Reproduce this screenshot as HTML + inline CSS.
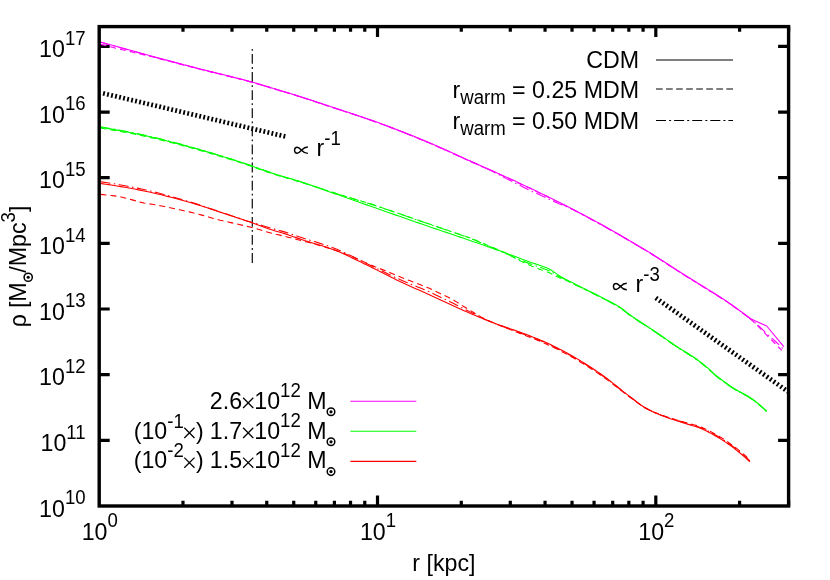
<!DOCTYPE html>
<html><head><meta charset="utf-8"><title>density profiles</title>
<style>html,body{margin:0;padding:0;background:#fff}body{position:relative;width:830px;height:580px;overflow:hidden;font-family:"Liberation Sans",sans-serif}</style></head>
<body>
<svg width="830" height="580" viewBox="0 0 830 580" style="display:block">
<rect width="830" height="580" fill="#fff"/>
<path d="M182.98 506.00 v-5.20 M182.98 26.60 v5.20 M231.99 506.00 v-5.20 M231.99 26.60 v5.20 M266.76 506.00 v-5.20 M266.76 26.60 v5.20 M293.73 506.00 v-5.20 M293.73 26.60 v5.20 M315.76 506.00 v-5.20 M315.76 26.60 v5.20 M334.40 506.00 v-5.20 M334.40 26.60 v5.20 M350.54 506.00 v-5.20 M350.54 26.60 v5.20 M364.77 506.00 v-5.20 M364.77 26.60 v5.20 M377.51 506.00 v-10.50 M377.51 26.60 v10.50 M461.29 506.00 v-5.20 M461.29 26.60 v5.20 M510.29 506.00 v-5.20 M510.29 26.60 v5.20 M545.06 506.00 v-5.20 M545.06 26.60 v5.20 M572.04 506.00 v-5.20 M572.04 26.60 v5.20 M594.07 506.00 v-5.20 M594.07 26.60 v5.20 M612.70 506.00 v-5.20 M612.70 26.60 v5.20 M628.84 506.00 v-5.20 M628.84 26.60 v5.20 M643.08 506.00 v-5.20 M643.08 26.60 v5.20 M655.81 506.00 v-10.50 M655.81 26.60 v10.50 M739.59 506.00 v-5.20 M739.59 26.60 v5.20 M788.60 506.00 v-5.20 M788.60 26.60 v5.20 M99.20 440.34 h10.5 M788.60 440.34 h-10.5 M99.20 374.68 h10.5 M788.60 374.68 h-10.5 M99.20 309.01 h10.5 M788.60 309.01 h-10.5 M99.20 243.35 h10.5 M788.60 243.35 h-10.5 M99.20 177.69 h10.5 M788.60 177.69 h-10.5 M99.20 112.03 h10.5 M788.60 112.03 h-10.5 M99.20 46.37 h10.5 M788.60 46.37 h-10.5" stroke="#000" stroke-width="3.2" fill="none"/>
<path d="M252.30 49.0 V263.1" stroke="#000" stroke-width="1.25" stroke-dasharray="1.8 3.2 9.8 3.3" fill="none" opacity="0.92"/>
<path d="M103.07 93.3 L285.3 136.5" stroke="#000" stroke-width="4.7" stroke-dasharray="1.85 2.27" fill="none"/>
<path d="M655.8 297.9 L788 391.63" stroke="#000" stroke-width="4.7" stroke-dasharray="1.85 2.396" fill="none"/>
<path d="M100.50 42.00 L103.22 42.77 L105.94 43.53 L108.66 44.30 L111.38 45.06 L114.10 45.82 L116.82 46.57 L119.54 47.33 L122.26 48.08 L124.98 48.83 L127.71 49.58 L130.43 50.33 L133.15 51.08 L135.87 51.82 L138.59 52.57 L141.31 53.31 L144.03 54.05 L146.75 54.78 L149.47 55.52 L152.19 56.25 L154.91 56.99 L157.63 57.72 L160.35 58.45 L163.07 59.17 L165.79 59.90 L168.51 60.63 L171.23 61.35 L173.95 62.07 L176.67 62.79 L179.39 63.51 L182.12 64.22 L184.84 64.94 L187.56 65.65 L190.28 66.37 L193.00 67.08 L195.72 67.79 L198.44 68.49 L201.16 69.18 L203.88 69.87 L206.60 70.54 L209.32 71.22 L212.04 71.89 L214.76 72.55 L217.48 73.22 L220.20 73.88 L222.92 74.54 L225.64 75.21 L228.36 75.88 L231.08 76.55 L233.80 77.23 L236.53 77.92 L239.25 78.61 L241.97 79.31 L244.69 80.02 L247.41 80.75 L250.13 81.48 L252.85 82.24 L255.57 83.01 L258.29 83.80 L261.01 84.61 L263.73 85.43 L266.45 86.26 L269.17 87.09 L271.89 87.93 L274.61 88.76 L277.33 89.59 L280.05 90.42 L282.77 91.23 L285.49 92.03 L288.21 92.84 L290.94 93.66 L293.66 94.48 L296.38 95.33 L299.10 96.19 L301.82 97.06 L304.54 97.94 L307.26 98.82 L309.98 99.72 L312.70 100.61 L315.42 101.52 L318.14 102.42 L320.86 103.33 L323.58 104.23 L326.30 105.14 L329.02 106.04 L331.74 106.94 L334.46 107.83 L337.18 108.73 L339.90 109.62 L342.62 110.51 L345.35 111.40 L348.07 112.29 L350.79 113.19 L353.51 114.09 L356.23 115.00 L358.95 115.91 L361.67 116.83 L364.39 117.75 L367.11 118.69 L369.83 119.63 L372.55 120.59 L375.27 121.56 L377.99 122.54 L380.71 123.53 L383.43 124.53 L386.15 125.54 L388.87 126.56 L391.59 127.59 L394.31 128.62 L397.03 129.67 L399.76 130.72 L402.48 131.78 L405.20 132.85 L407.92 133.93 L410.64 135.02 L413.36 136.11 L416.08 137.22 L418.80 138.32 L421.52 139.44 L424.24 140.57 L426.96 141.70 L429.68 142.86 L432.40 144.02 L435.12 145.21 L437.84 146.40 L440.56 147.61 L443.28 148.82 L446.00 150.04 L448.72 151.27 L451.44 152.50 L454.17 153.74 L456.89 154.97 L459.61 156.21 L462.33 157.44 L465.05 158.67 L467.77 159.90 L470.49 161.12 L473.21 162.33 L475.93 163.54 L478.65 164.75 L481.37 165.96 L484.09 167.16 L486.81 168.37 L489.53 169.58 L492.25 170.79 L494.97 172.00 L497.69 173.21 L500.41 174.43 L503.13 175.65 L505.85 176.88 L508.58 178.12 L511.30 179.36 L514.02 180.61 L516.74 181.87 L519.46 183.14 L522.18 184.41 L524.90 185.69 L527.62 186.97 L530.34 188.26 L533.06 189.55 L535.78 190.85 L538.50 192.16 L541.22 193.47 L543.94 194.78 L546.66 196.11 L549.38 197.44 L552.10 198.78 L554.82 200.12 L557.54 201.48 L560.26 202.84 L562.99 204.21 L565.71 205.59 L568.43 206.99 L571.15 208.39 L573.87 209.79 L576.59 211.21 L579.31 212.64 L582.03 214.07 L584.75 215.51 L587.47 216.96 L590.19 218.42 L592.91 219.89 L595.63 221.37 L598.35 222.85 L601.07 224.34 L603.79 225.85 L606.51 227.35 L609.23 228.87 L611.95 230.40 L614.67 231.93 L617.40 233.48 L620.12 235.06 L622.84 236.66 L625.56 238.27 L628.28 239.88 L631.00 241.49 L633.72 243.09 L636.44 244.69 L639.16 246.30 L641.88 247.91 L644.60 249.52 L647.32 251.15 L650.04 252.80 L652.76 254.47 L655.48 256.17 L658.20 257.89 L660.92 259.65 L663.64 261.43 L666.36 263.22 L669.08 265.01 L671.81 266.80 L674.53 268.57 L677.25 270.33 L679.97 272.06 L682.69 273.77 L685.41 275.46 L688.13 277.15 L690.85 278.83 L693.57 280.52 L696.29 282.20 L699.01 283.89 L701.73 285.58 L704.45 287.28 L707.17 288.97 L709.89 290.64 L712.61 292.33 L715.33 294.01 L718.05 295.72 L720.77 297.45 L723.49 299.21 L726.22 301.01 L728.94 302.86 L731.66 304.76 L734.38 306.70 L737.10 308.67 L739.82 310.65 L742.54 312.65 L745.26 314.67 L747.98 316.72 L750.70 318.80 L766.70 326.00 L783.80 346.70" stroke="#ff00ff" stroke-width="1.10" fill="none" stroke-linejoin="round"/>
<path d="M100.50 44.38 L103.22 45.05 L105.94 45.72 L108.66 46.38 L111.38 47.05 L114.10 47.71 L116.82 48.37 L119.54 49.02 L122.26 49.68 L124.98 50.33 L127.71 50.99 L130.43 51.64 L133.15 52.29 L135.87 52.93 L138.59 53.58 L141.31 54.22 L144.03 54.86 L146.75 55.50 L149.47 56.14 L152.19 56.84 L154.91 57.56 L157.63 58.27 L160.35 58.99 L163.07 59.70 L165.79 60.41 L168.51 61.11 L171.23 61.82 L173.95 62.53 L176.67 63.23 L179.39 63.93 L182.12 64.63 L184.84 65.33 L187.56 66.03 L190.28 66.72 L193.00 67.42 L195.72 68.11 L198.44 68.80 L201.16 69.48 L203.88 70.17 L206.60 70.84 L209.32 71.52 L212.04 72.19 L214.76 72.85 L217.48 73.52 L220.20 74.18 L222.92 74.84 L225.64 75.51 L228.36 76.18 L231.08 76.85 L233.80 77.53 L236.53 78.22 L239.25 78.91 L241.97 79.61 L244.69 80.32 L247.41 81.05 L250.13 81.78 L252.85 82.54 L255.57 83.31 L258.29 84.10 L261.01 84.91 L263.73 85.73 L266.45 86.56 L269.17 87.39 L271.89 88.23 L274.61 89.06 L277.33 89.89 L280.05 90.72 L282.77 91.53 L285.49 92.33 L288.21 93.14 L290.94 93.96 L293.66 94.78 L296.38 95.63 L299.10 96.49 L301.82 97.36 L304.54 98.24 L307.26 99.12 L309.98 100.02 L312.70 100.91 L315.42 101.82 L318.14 102.72 L320.86 103.63 L323.58 104.53 L326.30 105.44 L329.02 106.34 L331.74 107.24 L334.46 108.13 L337.18 109.03 L339.90 109.92 L342.62 110.81 L345.35 111.70 L348.07 112.59 L350.79 113.49 L353.51 114.39 L356.23 115.30 L358.95 116.21 L361.67 117.13 L364.39 118.05 L367.11 118.99 L369.83 119.93 L372.55 120.89 L375.27 121.86 L377.99 122.84 L380.71 123.83 L383.43 124.83 L386.15 125.84 L388.87 126.86 L391.59 127.89 L394.31 128.92 L397.03 129.97 L399.76 131.02 L402.48 132.08 L405.20 133.15 L407.92 134.23 L410.64 135.32 L413.36 136.41 L416.08 137.52 L418.80 138.62 L421.52 139.74 L424.24 140.87 L426.96 142.00 L429.68 143.16 L432.40 144.32 L435.12 145.51 L437.84 146.70 L440.56 147.91 L443.28 149.12 L446.00 150.34 L448.72 151.57 L451.44 152.80 L454.17 154.04 L456.89 155.27 L459.61 156.51 L462.33 157.74 L465.05 158.97 L467.77 160.20 L470.49 161.42 L473.21 162.63 L475.93 163.84 L478.65 165.05 L481.37 166.26 L484.09 167.46 L486.81 168.67 L489.53 169.88 L492.25 171.09 L494.97 172.30 L497.69 173.51 L500.41 174.73 L503.13 175.95 L505.85 177.18 L508.58 178.42 L511.30 179.66 L514.02 180.91 L516.74 182.17 L519.46 183.44 L522.18 184.71 L524.90 185.99 L527.62 187.27 L530.34 188.56 L533.06 189.85 L535.78 191.15 L538.50 192.46 L541.22 193.77 L543.94 195.08 L546.66 196.41 L549.38 197.74 L552.10 199.08 L554.82 200.42 L557.54 201.78 L560.26 203.14 L562.99 204.51 L565.71 205.89 L568.43 207.29 L571.15 208.69 L573.87 210.09 L576.59 211.51 L579.31 212.94 L582.03 214.37 L584.75 215.81 L587.47 217.26 L590.19 218.72 L592.91 220.19 L595.63 221.67 L598.35 223.15 L601.07 224.64 L603.79 226.15 L606.51 227.65 L609.23 229.17 L611.95 230.70 L614.67 232.23 L617.40 233.78 L620.12 235.36 L622.84 236.96 L625.56 238.57 L628.28 240.18 L631.00 241.79 L633.72 243.39 L636.44 244.99 L639.16 246.60 L641.88 248.21 L644.60 249.82 L647.32 251.45 L650.04 253.10 L652.76 254.77 L655.48 256.47 L658.20 258.19 L660.92 259.95 L663.64 261.73 L666.36 263.52 L669.08 265.31 L671.81 267.10 L674.53 268.87 L677.25 270.63 L679.97 272.36 L682.69 274.07 L685.41 275.76 L688.13 277.45 L690.85 279.13 L693.57 280.82 L696.29 282.50 L699.01 284.19 L701.73 285.88 L704.45 287.58 L707.17 289.27 L709.89 290.94 L712.61 292.63 L715.33 294.31 L718.05 296.02 L720.77 297.75 L723.49 299.51 L726.22 301.31 L728.94 303.16 L731.66 305.06 L734.38 307.00 L737.10 308.97 L739.82 310.95 L742.54 312.95 L745.26 314.97 L747.98 317.02 L750.70 319.10 L755.90 324.00 L765.00 333.30 L775.00 343.50 L781.70 350.30" stroke="#ff00ff" stroke-width="1.10" fill="none" stroke-dasharray="6 4" stroke-linejoin="round"/>
<path d="M100.50 42.20 L103.22 42.97 L105.94 43.73 L108.66 44.50 L111.38 45.26 L114.10 46.02 L116.82 46.77 L119.54 47.53 L122.26 48.28 L124.98 49.03 L127.71 49.78 L130.43 50.53 L133.15 51.28 L135.87 52.02 L138.59 52.77 L141.31 53.51 L144.03 54.25 L146.75 54.98 L149.47 55.72 L152.19 56.45 L154.91 57.19 L157.63 57.92 L160.35 58.65 L163.07 59.38 L165.79 60.11 L168.51 60.83 L171.23 61.55 L173.95 62.28 L176.67 63.00 L179.39 63.72 L182.12 64.43 L184.84 65.15 L187.56 65.87 L190.28 66.58 L193.00 67.29 L195.72 68.00 L198.44 68.70 L201.16 69.40 L203.88 70.08 L206.60 70.76 L209.32 71.43 L212.04 72.10 L214.76 72.77 L217.48 73.44 L220.20 74.10 L222.92 74.76 L225.64 75.43 L228.36 76.10 L231.08 76.77 L233.80 77.45 L236.53 78.14 L239.25 78.83 L241.97 79.54 L244.69 80.25 L247.41 80.98 L250.13 81.71 L252.85 82.47 L255.57 83.24 L258.29 84.03 L261.01 84.84 L263.73 85.66 L266.45 86.49 L269.17 87.33 L271.89 88.16 L274.61 89.00 L277.33 89.83 L280.05 90.65 L282.77 91.47 L285.49 92.27 L288.21 93.08 L290.94 93.90 L293.66 94.73 L296.38 95.57 L299.10 96.43 L301.82 97.30 L304.54 98.18 L307.26 99.07 L309.98 99.96 L312.70 100.86 L315.42 101.76 L318.14 102.67 L320.86 103.58 L323.58 104.48 L326.30 105.39 L329.02 106.29 L331.74 107.19 L334.46 108.09 L337.18 108.98 L339.90 109.87 L342.62 110.76 L345.35 111.66 L348.07 112.55 L350.79 113.45 L353.51 114.35 L356.23 115.26 L358.95 116.17 L361.67 117.09 L364.39 118.01 L367.11 118.95 L369.83 119.90 L372.55 120.85 L375.27 121.82 L377.99 122.81 L380.71 123.80 L383.43 124.80 L386.15 125.81 L388.87 126.83 L391.59 127.86 L394.31 128.89 L397.03 129.94 L399.76 130.99 L402.48 132.06 L405.20 133.13 L407.92 134.21 L410.64 135.30 L413.36 136.39 L416.08 137.49 L418.80 138.60 L421.52 139.72 L424.24 140.85 L426.96 141.98 L429.68 143.14 L432.40 144.31 L435.12 145.49 L437.84 146.69 L440.56 147.89 L443.28 149.11 L446.00 150.33 L448.72 151.56 L451.44 152.79 L454.17 154.03 L456.89 155.26 L459.61 156.50 L462.33 157.74 L465.05 158.97 L467.77 160.19 L470.49 161.41 L473.21 162.63 L475.93 163.84 L478.65 165.05 L481.37 166.25 L484.09 167.46 L486.81 168.67 L489.53 169.88 L492.25 171.26 L494.97 172.67 L497.69 174.09 L500.41 175.51 L503.13 176.94 L505.85 178.37 L508.58 179.72 L511.30 181.06 L514.02 182.41 L516.74 183.77 L519.46 185.15 L522.18 186.52 L524.90 187.90 L527.62 189.28 L530.34 190.65 L533.06 191.88 L535.78 193.12 L538.50 194.36 L541.22 195.61 L543.94 196.86 L546.66 198.12 L549.38 199.39 L552.10 200.67 L554.82 201.95 L557.54 203.11 L560.26 204.18 L562.99 205.27 L565.71 206.36 L568.43 207.45 L571.15 208.69 L573.87 210.09 L576.59 211.51 L579.31 212.94 L582.03 214.37 L584.75 215.81 L587.47 217.26 L590.19 218.72 L592.91 220.19 L595.63 221.67 L598.35 223.15 L601.07 224.64 L603.79 226.15 L606.51 227.65 L609.23 229.17 L611.95 230.70 L614.67 232.23 L617.40 233.78 L620.12 235.36 L622.84 236.96 L625.56 238.57 L628.28 240.18 L631.00 241.79 L633.72 243.39 L636.44 244.99 L639.16 246.60 L641.88 248.21 L644.60 249.82 L647.32 251.45 L650.04 253.10 L652.76 254.77 L655.48 256.47 L658.20 258.19 L660.92 259.95 L663.64 261.73 L666.36 263.52 L669.08 265.31 L671.81 267.10 L674.53 268.87 L677.25 270.63 L679.97 272.36 L682.69 274.07 L685.41 275.76 L688.13 277.45 L690.85 279.13 L693.57 280.82 L696.29 282.50 L699.01 284.19 L701.73 285.88 L704.45 287.58 L707.17 289.27 L709.89 290.94 L712.61 292.63 L715.33 294.31 L718.05 296.02 L720.77 297.75 L723.49 299.51 L726.22 301.31 L728.94 303.16 L731.66 305.06 L734.38 307.00 L737.10 308.97 L739.82 310.95 L742.54 312.95 L745.26 314.97 L747.98 317.02 L750.70 319.10 L758.00 325.20 L766.00 333.00 L775.00 341.00 L783.30 348.80" stroke="#ff00ff" stroke-width="1.10" fill="none" stroke-dasharray="10 3.5 1.5 3.5" stroke-linejoin="round"/>
<path d="M100.50 127.30 L103.29 127.74 L106.08 128.20 L108.86 128.66 L111.65 129.14 L114.44 129.63 L117.23 130.13 L120.02 130.64 L122.80 131.17 L125.59 131.70 L128.38 132.24 L131.17 132.79 L133.95 133.35 L136.74 133.92 L139.53 134.50 L142.32 135.09 L145.11 135.69 L147.89 136.30 L150.68 136.93 L153.47 137.58 L156.26 138.24 L159.05 138.91 L161.83 139.59 L164.62 140.29 L167.41 140.99 L170.20 141.71 L172.98 142.43 L175.77 143.16 L178.56 143.90 L181.35 144.65 L184.14 145.40 L186.92 146.15 L189.71 146.91 L192.50 147.67 L195.29 148.45 L198.08 149.23 L200.86 150.02 L203.65 150.82 L206.44 151.64 L209.23 152.46 L212.01 153.29 L214.80 154.12 L217.59 154.97 L220.38 155.82 L223.17 156.68 L225.95 157.55 L228.74 158.42 L231.53 159.30 L234.32 160.18 L237.11 161.07 L239.89 161.96 L242.68 162.87 L245.47 163.81 L248.26 164.77 L251.04 165.74 L253.83 166.72 L256.62 167.71 L259.41 168.71 L262.20 169.70 L264.98 170.69 L267.77 171.66 L270.56 172.62 L273.35 173.56 L276.14 174.48 L278.92 175.37 L281.71 176.22 L284.50 177.02 L287.29 177.79 L290.07 178.56 L292.86 179.36 L295.65 180.20 L298.44 181.08 L301.23 181.99 L304.01 182.92 L306.80 183.86 L309.59 184.83 L312.38 185.80 L315.17 186.78 L317.95 187.76 L320.74 188.75 L323.53 189.73 L326.32 190.71 L329.11 191.68 L331.89 192.65 L334.68 193.62 L337.47 194.59 L340.26 195.57 L343.04 196.54 L345.83 197.52 L348.62 198.50 L351.41 199.48 L354.20 200.46 L356.98 201.45 L359.77 202.43 L362.56 203.41 L365.35 204.39 L368.14 205.37 L370.92 206.35 L373.71 207.32 L376.50 208.30 L379.29 209.27 L382.07 210.25 L384.86 211.22 L387.65 212.19 L390.44 213.17 L393.23 214.14 L396.01 215.11 L398.80 216.09 L401.59 217.06 L404.38 218.03 L407.17 219.00 L409.95 219.97 L412.74 220.93 L415.53 221.90 L418.32 222.86 L421.10 223.83 L423.89 224.79 L426.68 225.75 L429.47 226.70 L432.26 227.66 L435.04 228.61 L437.83 229.55 L440.62 230.50 L443.41 231.45 L446.20 232.39 L448.98 233.34 L451.77 234.28 L454.56 235.23 L457.35 236.18 L460.13 237.13 L462.92 238.08 L465.71 239.03 L468.50 239.98 L471.29 240.94 L474.07 241.90 L476.86 242.85 L479.65 243.81 L482.44 244.76 L485.23 245.72 L488.01 246.68 L490.80 247.65 L493.59 248.63 L496.38 249.61 L499.16 250.60 L501.95 251.61 L504.74 252.63 L507.53 253.66 L510.32 254.70 L513.10 255.75 L515.89 256.80 L518.68 257.85 L521.47 258.90 L524.26 259.94 L527.04 260.98 L529.83 262.00 L532.62 262.96 L535.41 263.86 L538.19 264.76 L540.98 265.69 L543.77 266.70 L546.56 267.81 L549.35 269.07 L552.13 270.70 L554.92 272.65 L557.71 274.65 L560.50 276.43 L563.29 278.00 L566.07 279.48 L568.86 280.90 L571.65 282.32 L574.44 283.73 L577.23 285.12 L580.01 286.50 L582.80 287.87 L585.59 289.25 L588.38 290.64 L591.16 292.04 L593.95 293.44 L596.74 294.85 L599.53 296.28 L602.32 297.73 L605.10 299.15 L607.89 300.56 L610.68 301.98 L613.47 303.46 L616.26 305.02 L619.04 306.69 L621.83 308.56 L624.62 310.71 L627.41 312.94 L630.19 315.04 L632.98 316.99 L635.77 318.87 L638.56 320.71 L641.35 322.51 L644.13 324.30 L646.92 326.09 L649.71 327.89 L652.50 329.73 L655.29 331.60 L658.07 333.52 L660.86 335.46 L663.65 337.41 L666.44 339.37 L669.22 341.32 L672.01 343.25 L674.80 345.16 L677.59 347.03 L680.38 348.84 L683.16 350.56 L685.95 352.26 L688.74 353.96 L691.53 355.71 L694.32 357.56 L697.10 359.53 L699.89 361.61 L702.68 363.79 L705.47 366.06 L708.25 368.41 L711.04 370.99 L713.83 373.60 L716.62 375.99 L719.41 378.16 L722.19 380.23 L724.98 382.25 L727.77 384.26 L730.56 386.22 L733.35 388.07 L736.13 389.76 L738.92 391.31 L741.71 392.78 L744.50 394.26 L747.28 395.83 L750.07 397.55 L752.86 399.47 L755.65 401.56 L758.44 403.78 L761.22 406.14 L764.01 408.62 L766.80 411.20" stroke="#00ff00" stroke-width="1.10" fill="none" stroke-linejoin="round"/>
<path d="M100.50 128.10 L103.29 128.54 L106.08 128.99 L108.86 129.45 L111.65 129.92 L114.44 130.40 L117.23 130.90 L120.02 131.40 L122.80 131.92 L125.59 132.45 L128.38 132.98 L131.17 133.53 L133.95 134.08 L136.74 134.65 L139.53 135.22 L142.32 135.81 L145.11 136.40 L147.89 137.01 L150.68 137.63 L153.47 138.27 L156.26 138.92 L159.05 139.59 L161.83 140.27 L164.62 140.96 L167.41 141.66 L170.20 142.37 L172.98 143.08 L175.77 143.81 L178.56 144.54 L181.35 145.28 L184.14 146.03 L186.92 146.78 L189.71 147.53 L192.50 148.29 L195.29 149.06 L198.08 149.83 L200.86 150.62 L203.65 151.42 L206.44 152.22 L209.23 153.04 L212.01 153.86 L214.80 154.69 L217.59 155.53 L220.38 156.38 L223.17 157.24 L225.95 158.10 L228.74 158.96 L231.53 159.83 L234.32 160.71 L237.11 161.60 L239.89 162.48 L242.68 163.39 L245.47 164.32 L248.26 165.27 L251.04 166.24 L253.83 167.21 L256.62 168.20 L259.41 169.19 L262.20 170.18 L264.98 171.16 L267.77 172.13 L270.56 173.08 L273.35 174.02 L276.14 174.93 L278.92 175.81 L281.71 176.65 L284.50 177.45 L287.29 178.22 L290.07 178.98 L292.86 179.77 L295.65 180.61 L298.44 181.49 L301.23 182.35 L304.01 183.20 L306.80 184.06 L309.59 184.94 L312.38 185.83 L315.17 186.72 L317.95 187.63 L320.74 188.53 L323.53 189.43 L326.32 190.32 L329.11 191.21 L331.89 192.09 L334.68 192.98 L337.47 193.87 L340.26 194.75 L343.04 195.58 L345.83 196.41 L348.62 197.24 L351.41 198.07 L354.20 198.91 L356.98 199.74 L359.77 200.57 L362.56 201.41 L365.35 202.24 L368.14 203.07 L370.92 203.94 L373.71 204.89 L376.50 205.83 L379.29 206.78 L382.07 207.73 L384.86 208.67 L387.65 209.62 L390.44 210.56 L393.23 211.51 L396.01 212.45 L398.80 213.40 L401.59 214.36 L404.38 215.33 L407.17 216.31 L409.95 217.28 L412.74 218.25 L415.53 219.22 L418.32 220.19 L421.10 221.16 L423.89 222.12 L426.68 223.08 L429.47 224.04 L432.26 225.00 L435.04 225.96 L437.83 226.91 L440.62 227.86 L443.41 228.81 L446.20 229.76 L448.98 230.71 L451.77 231.66 L454.56 232.61 L457.35 233.56 L460.13 234.51 L462.92 235.47 L465.71 236.42 L468.50 237.38 L471.29 238.44 L474.07 239.60 L476.86 240.76 L479.65 241.91 L482.44 243.07 L485.23 244.24 L488.01 245.41 L490.80 246.59 L493.59 247.77 L496.38 248.96 L499.16 250.16 L501.95 251.38 L504.74 252.61 L507.53 254.08 L510.32 255.59 L513.10 257.10 L515.89 258.61 L518.68 260.13 L521.47 261.51 L524.26 262.76 L527.04 264.01 L529.83 265.24 L532.62 266.40 L535.41 267.52 L538.19 268.63 L540.98 269.65 L543.77 270.54 L546.56 271.53 L549.35 272.68 L552.13 274.17 L554.92 275.54 L557.71 276.97 L560.50 278.17 L563.29 279.15 L566.07 280.26 L568.86 281.65 L571.65 283.02 L574.44 284.40 L577.23 285.75 L580.01 287.08 L582.80 288.41 L585.59 289.75 L588.38 291.11 L591.16 292.46 L593.95 293.82 L596.74 295.20 L599.53 296.59 L602.32 298.03 L605.10 299.45 L607.89 300.86 L610.68 302.28 L613.47 303.76 L616.26 305.32 L619.04 306.99 L621.83 308.86 L624.62 311.01 L627.41 313.24 L630.19 315.34 L632.98 317.29 L635.77 319.17 L638.56 321.01 L641.35 322.81 L644.13 324.60 L646.92 326.39 L649.71 328.19 L652.50 330.03 L655.29 331.90 L658.07 333.82 L660.86 335.76 L663.65 337.71 L666.44 339.67 L669.22 341.62 L672.01 343.55 L674.80 345.46 L677.59 347.33 L680.38 349.14 L683.16 350.86 L685.95 352.56 L688.74 354.26 L691.53 356.01 L694.32 357.86 L697.10 359.83 L699.89 361.91 L702.68 364.09 L705.47 366.36 L708.25 368.71 L711.04 371.29 L713.83 373.90 L716.62 376.29 L719.41 378.46 L722.19 380.53 L724.98 382.55 L727.77 384.56 L730.56 386.52 L733.35 388.37 L736.13 390.06 L738.92 391.61 L741.71 393.08 L744.50 394.56 L747.28 396.13 L750.07 397.85 L752.86 399.77 L755.65 401.86 L758.44 404.08 L761.22 406.44 L764.01 408.92 L766.80 411.50" stroke="#00ff00" stroke-width="1.10" fill="none" stroke-dasharray="6 4" stroke-linejoin="round"/>
<path d="M100.50 126.80 L103.29 127.25 L106.08 127.71 L108.86 128.19 L111.65 128.67 L114.44 129.17 L117.23 129.68 L120.02 130.19 L122.80 130.72 L125.59 131.26 L128.38 131.81 L131.17 132.37 L133.95 132.94 L136.74 133.51 L139.53 134.10 L142.32 134.70 L145.11 135.30 L147.89 135.92 L150.68 136.56 L153.47 137.21 L156.26 137.88 L159.05 138.56 L161.83 139.25 L164.62 139.95 L167.41 140.66 L170.20 141.38 L172.98 142.11 L175.77 142.85 L178.56 143.60 L181.35 144.35 L184.14 145.11 L186.92 145.87 L189.71 146.64 L192.50 147.41 L195.29 148.18 L198.08 148.97 L200.86 149.77 L203.65 150.58 L206.44 151.40 L209.23 152.23 L212.01 153.07 L214.80 153.91 L217.59 154.76 L220.38 155.62 L223.17 156.49 L225.95 157.36 L228.74 158.24 L231.53 159.13 L234.32 160.02 L237.11 160.91 L239.89 161.81 L242.68 162.73 L245.47 163.67 L248.26 164.64 L251.04 165.62 L253.83 166.61 L256.62 167.61 L259.41 168.61 L262.20 169.61 L264.98 170.60 L267.77 171.58 L270.56 172.55 L273.35 173.50 L276.14 174.42 L278.92 175.31 L281.71 176.17 L284.50 176.98 L287.29 177.76 L290.07 178.54 L292.86 179.34 L295.65 180.19 L298.44 181.08 L301.23 181.97 L304.01 182.86 L306.80 183.76 L309.59 184.68 L312.38 185.61 L315.17 186.55 L317.95 187.50 L320.74 188.44 L323.53 189.38 L326.32 190.32 L329.11 191.24 L331.89 192.17 L334.68 193.10 L337.47 194.03 L340.26 194.95 L343.04 195.78 L345.83 196.61 L348.62 197.44 L351.41 198.27 L354.20 199.11 L356.98 199.94 L359.77 200.77 L362.56 201.61 L365.35 202.44 L368.14 203.27 L370.92 204.14 L373.71 205.09 L376.50 206.03 L379.29 206.98 L382.07 207.93 L384.86 208.87 L387.65 209.82 L390.44 210.76 L393.23 211.71 L396.01 212.65 L398.80 213.60 L401.59 214.56 L404.38 215.53 L407.17 216.51 L409.95 217.48 L412.74 218.45 L415.53 219.42 L418.32 220.39 L421.10 221.36 L423.89 222.32 L426.68 223.28 L429.47 224.24 L432.26 225.20 L435.04 226.16 L437.83 227.11 L440.62 228.06 L443.41 229.01 L446.20 229.96 L448.98 230.91 L451.77 231.86 L454.56 232.81 L457.35 233.76 L460.13 234.71 L462.92 235.67 L465.71 236.62 L468.50 237.58 L471.29 238.64 L474.07 239.82 L476.86 241.00 L479.65 242.18 L482.44 243.36 L485.23 244.54 L488.01 245.74 L490.80 246.94 L493.59 248.16 L496.38 249.38 L499.16 250.60 L501.95 251.85 L504.74 253.10 L507.53 254.33 L510.32 255.55 L513.10 256.79 L515.89 258.02 L518.68 259.26 L521.47 260.43 L524.26 261.53 L527.04 262.62 L529.83 263.70 L532.62 264.71 L535.41 265.67 L538.19 266.63 L540.98 267.61 L543.77 268.67 L546.56 269.69 L549.35 270.75 L552.13 272.16 L554.92 273.91 L557.71 275.70 L560.50 277.27 L563.29 278.63 L566.07 279.98 L568.86 281.40 L571.65 282.82 L574.44 284.23 L577.23 285.62 L580.01 287.00 L582.80 288.37 L585.59 289.75 L588.38 291.14 L591.16 292.54 L593.95 293.94 L596.74 295.35 L599.53 296.78 L602.32 298.23 L605.10 299.65 L607.89 301.06 L610.68 302.48 L613.47 303.96 L616.26 305.52 L619.04 307.19 L621.83 309.06 L624.62 311.21 L627.41 313.44 L630.19 315.54 L632.98 317.49 L635.77 319.37 L638.56 321.21 L641.35 323.01 L644.13 324.80 L646.92 326.59 L649.71 328.39 L652.50 330.23 L655.29 332.10 L658.07 334.02 L660.86 335.96 L663.65 337.91 L666.44 339.87 L669.22 341.82 L672.01 343.75 L674.80 345.66 L677.59 347.53 L680.38 349.34 L683.16 351.06 L685.95 352.76 L688.74 354.46 L691.53 356.21 L694.32 358.06 L697.10 360.03 L699.89 362.11 L702.68 364.29 L705.47 366.56 L708.25 368.91 L711.04 371.49 L713.83 374.10 L716.62 376.49 L719.41 378.66 L722.19 380.73 L724.98 382.75 L727.77 384.76 L730.56 386.72 L733.35 388.57 L736.13 390.26 L738.92 391.81 L741.71 393.28 L744.50 394.76 L747.28 396.33 L750.07 398.05 L752.86 399.97 L755.65 402.06 L758.44 404.28 L761.22 406.64 L764.01 409.12 L766.80 411.70" stroke="#00ff00" stroke-width="1.10" fill="none" stroke-dasharray="10 3.5 1.5 3.5" stroke-linejoin="round"/>
<path d="M100.50 183.50 L103.22 183.87 L105.93 184.25 L108.65 184.65 L111.37 185.06 L114.09 185.48 L116.80 185.92 L119.52 186.37 L122.24 186.84 L124.95 187.31 L127.67 187.80 L130.39 188.29 L133.11 188.80 L135.82 189.32 L138.54 189.85 L141.26 190.39 L143.97 190.94 L146.69 191.50 L149.41 192.08 L152.13 192.68 L154.84 193.30 L157.56 193.93 L160.28 194.58 L162.99 195.24 L165.71 195.92 L168.43 196.61 L171.15 197.31 L173.86 198.03 L176.58 198.75 L179.30 199.49 L182.01 200.23 L184.73 200.99 L187.45 201.75 L190.17 202.52 L192.88 203.30 L195.60 204.11 L198.32 204.95 L201.03 205.81 L203.75 206.70 L206.47 207.59 L209.19 208.50 L211.90 209.41 L214.62 210.32 L217.34 211.22 L220.05 212.12 L222.77 213.01 L225.49 213.89 L228.21 214.79 L230.92 215.68 L233.64 216.58 L236.36 217.48 L239.07 218.39 L241.79 219.30 L244.51 220.22 L247.23 221.15 L249.94 222.08 L252.66 223.03 L255.38 224.01 L258.09 225.01 L260.81 226.02 L263.53 227.02 L266.25 228.01 L268.96 228.95 L271.68 229.85 L274.40 230.69 L277.12 231.50 L279.83 232.28 L282.55 233.08 L285.27 233.89 L287.98 234.76 L290.70 235.68 L293.42 236.65 L296.14 237.64 L298.85 238.63 L301.57 239.59 L304.29 240.50 L307.00 241.34 L309.72 242.14 L312.44 242.91 L315.16 243.68 L317.87 244.47 L320.59 245.31 L323.31 246.18 L326.02 247.07 L328.74 247.99 L331.46 248.94 L334.18 249.93 L336.89 250.96 L339.61 252.06 L342.33 253.24 L345.04 254.50 L347.76 255.78 L350.48 257.09 L353.20 258.38 L355.91 259.67 L358.63 260.99 L361.35 262.31 L364.06 263.64 L366.78 264.99 L369.50 266.33 L372.22 267.68 L374.93 269.03 L377.65 270.37 L380.37 271.73 L383.08 273.10 L385.80 274.47 L388.52 275.85 L391.24 277.22 L393.95 278.57 L396.67 279.91 L399.39 281.22 L402.10 282.51 L404.82 283.76 L407.54 285.00 L410.26 286.22 L412.97 287.43 L415.69 288.64 L418.41 289.84 L421.12 291.05 L423.84 292.27 L426.56 293.50 L429.28 294.73 L431.99 295.97 L434.71 297.21 L437.43 298.45 L440.14 299.69 L442.86 300.93 L445.58 302.16 L448.30 303.40 L451.01 304.64 L453.73 305.89 L456.45 307.14 L459.16 308.40 L461.88 309.64 L464.60 310.88 L467.32 312.09 L470.03 313.28 L472.75 314.45 L475.47 315.59 L478.18 316.71 L480.90 317.82 L483.62 318.92 L486.34 320.00 L489.05 321.06 L491.77 322.11 L494.49 323.14 L497.20 324.16 L499.92 325.15 L502.64 326.11 L505.36 327.06 L508.07 327.99 L510.79 328.92 L513.51 329.86 L516.22 330.81 L518.94 331.79 L521.66 332.80 L524.38 333.81 L527.09 334.84 L529.81 335.87 L532.53 336.92 L535.24 337.99 L537.96 339.09 L540.68 340.22 L543.40 341.38 L546.11 342.59 L548.83 343.83 L551.55 345.11 L554.26 346.43 L556.98 347.79 L559.70 349.18 L562.42 350.59 L565.13 352.04 L567.85 353.52 L570.57 355.03 L573.28 356.56 L576.00 358.13 L578.72 359.73 L581.44 361.37 L584.15 363.03 L586.87 364.73 L589.59 366.46 L592.31 368.22 L595.02 370.02 L597.74 371.85 L600.46 373.72 L603.17 375.66 L605.89 377.68 L608.61 379.77 L611.33 381.91 L614.04 384.08 L616.76 386.28 L619.48 388.47 L622.19 390.65 L624.91 392.81 L627.63 394.91 L630.35 396.96 L633.06 399.02 L635.78 401.13 L638.50 403.20 L641.21 405.19 L643.93 407.03 L646.65 408.66 L649.37 410.09 L652.08 411.42 L654.80 412.65 L657.52 413.81 L660.23 414.91 L662.95 415.97 L665.67 417.00 L668.39 418.00 L671.10 418.94 L673.82 419.84 L676.54 420.72 L679.25 421.58 L681.97 422.44 L684.69 423.30 L687.41 424.11 L690.12 424.90 L692.84 425.69 L695.56 426.53 L698.27 427.46 L700.99 428.50 L703.71 429.68 L706.43 430.99 L709.14 432.40 L711.86 433.88 L714.58 435.40 L717.29 436.97 L720.01 438.61 L722.73 440.32 L725.45 442.11 L728.16 443.96 L730.88 445.90 L733.60 447.91 L736.31 450.01 L739.03 452.20 L741.75 454.48 L744.47 456.84 L747.18 459.28 L749.90 461.80" stroke="#ff0000" stroke-width="1.10" fill="none" stroke-linejoin="round"/>
<path d="M100.50 194.38 L103.22 194.65 L105.93 194.93 L108.65 195.23 L111.37 195.54 L114.09 195.87 L116.80 196.20 L119.52 196.61 L122.24 197.29 L124.95 197.98 L127.67 198.68 L130.39 199.40 L133.11 200.12 L135.82 200.85 L138.54 201.60 L141.26 202.35 L143.97 202.99 L146.69 203.41 L149.41 203.85 L152.13 204.31 L154.84 204.78 L157.56 205.27 L160.28 205.78 L162.99 206.30 L165.71 206.84 L168.43 207.39 L171.15 207.95 L173.86 208.52 L176.58 209.11 L179.30 209.70 L182.01 210.30 L184.73 210.92 L187.45 211.54 L190.17 212.16 L192.88 212.80 L195.60 213.47 L198.32 214.17 L201.03 214.89 L203.75 215.64 L206.47 216.39 L209.19 217.16 L211.90 217.93 L214.62 218.70 L217.34 219.46 L220.05 220.21 L222.77 220.81 L225.49 221.41 L228.21 222.01 L230.92 222.62 L233.64 223.23 L236.36 223.84 L239.07 224.46 L241.79 225.09 L244.51 225.72 L247.23 226.36 L249.94 227.00 L252.66 227.68 L255.38 228.47 L258.09 229.27 L260.81 230.08 L263.53 230.89 L266.25 231.68 L268.96 232.43 L271.68 233.16 L274.40 233.86 L277.12 234.52 L279.83 235.16 L282.55 235.81 L285.27 236.49 L287.98 237.16 L290.70 237.81 L293.42 238.51 L296.14 239.23 L298.85 239.94 L301.57 240.63 L304.29 241.29 L307.00 242.07 L309.72 242.81 L312.44 243.52 L315.16 244.23 L317.87 244.95 L320.59 245.72 L323.31 246.53 L326.02 247.37 L328.74 248.22 L331.46 249.05 L334.18 249.88 L336.89 250.75 L339.61 251.68 L342.33 252.71 L345.04 253.79 L347.76 254.92 L350.48 256.06 L353.20 257.22 L355.91 258.38 L358.63 259.55 L361.35 260.74 L364.06 261.94 L366.78 263.15 L369.50 264.36 L372.22 265.57 L374.93 266.78 L377.65 267.85 L380.37 268.86 L383.08 269.88 L385.80 270.90 L388.52 272.05 L391.24 273.21 L393.95 274.35 L396.67 275.48 L399.39 276.58 L402.10 277.65 L404.82 278.72 L407.54 279.80 L410.26 280.86 L412.97 281.91 L415.69 282.95 L418.41 284.00 L421.12 285.05 L423.84 286.11 L426.56 287.18 L429.28 288.35 L431.99 289.64 L434.71 290.92 L437.43 292.20 L440.14 293.49 L442.86 294.77 L445.58 296.06 L448.30 297.34 L451.01 298.62 L453.73 300.18 L456.45 301.88 L459.16 303.59 L461.88 305.29 L464.60 306.98 L467.32 308.65 L470.03 310.29 L472.75 312.00 L475.47 313.68 L478.18 315.35 L480.90 316.91 L483.62 318.28 L486.34 319.63 L489.05 320.97 L491.77 322.19 L494.49 323.34 L497.20 324.47 L499.92 325.58 L502.64 326.66 L505.36 327.72 L508.07 328.77 L510.79 329.82 L513.51 330.88 L516.22 331.95 L518.94 333.04 L521.66 334.10 L524.38 335.11 L527.09 336.14 L529.81 337.17 L532.53 338.22 L535.24 339.29 L537.96 340.39 L540.68 341.52 L543.40 342.68 L546.11 343.89 L548.83 345.13 L551.55 346.41 L554.26 347.73 L556.98 349.09 L559.70 350.48 L562.42 351.89 L565.13 353.34 L567.85 354.82 L570.57 356.33 L573.28 357.86 L576.00 359.43 L578.72 361.03 L581.44 362.67 L584.15 364.33 L586.87 366.03 L589.59 367.76 L592.31 369.52 L595.02 371.32 L597.74 373.15 L600.46 375.01 L603.17 376.88 L605.89 378.83 L608.61 380.85 L611.33 382.93 L614.04 385.03 L616.76 387.16 L619.48 389.29 L622.19 391.40 L624.91 393.48 L627.63 395.52 L630.35 397.50 L633.06 399.50 L635.78 401.53 L638.50 403.54 L641.21 405.46 L643.93 407.21 L646.65 408.76 L649.37 410.11 L652.08 411.36 L654.80 412.51 L657.52 413.59 L660.23 414.61 L662.95 415.58 L665.67 416.53 L668.39 417.45 L671.10 418.31 L673.82 419.13 L676.54 419.92 L679.25 420.70 L681.97 421.48 L684.69 422.26 L687.41 422.99 L690.12 423.69 L692.84 424.41 L695.56 425.17 L698.27 426.01 L700.99 426.99 L703.71 428.14 L706.43 429.43 L709.14 430.81 L711.86 432.26 L714.58 433.75 L717.29 435.29 L720.01 436.91 L722.73 438.59 L725.45 440.35 L728.16 442.18 L730.88 444.09 L733.60 446.07 L736.31 448.15 L739.03 450.31 L741.75 452.56 L744.47 454.90 L747.18 457.31 L749.90 459.80" stroke="#ff0000" stroke-width="1.10" fill="none" stroke-dasharray="6 4" stroke-linejoin="round"/>
<path d="M100.50 181.70 L103.22 182.10 L105.93 182.51 L108.65 182.93 L111.37 183.37 L114.09 183.82 L116.80 184.28 L119.52 184.75 L122.24 185.24 L124.95 185.74 L127.67 186.25 L130.39 186.78 L133.11 187.31 L135.82 187.86 L138.54 188.41 L141.26 188.97 L143.97 189.56 L146.69 190.17 L149.41 190.80 L152.13 191.45 L154.84 192.12 L157.56 192.81 L160.28 193.51 L162.99 194.22 L165.71 194.95 L168.43 195.69 L171.15 196.44 L173.86 197.21 L176.58 197.98 L179.30 198.77 L182.01 199.57 L184.73 200.37 L187.45 201.18 L190.17 202.00 L192.88 202.82 L195.60 203.65 L198.32 204.52 L201.03 205.41 L203.75 206.31 L206.47 207.24 L209.19 208.17 L211.90 209.10 L214.62 210.04 L217.34 210.97 L220.05 211.89 L222.77 212.80 L225.49 213.71 L228.21 214.63 L230.92 215.55 L233.64 216.47 L236.36 217.40 L239.07 218.34 L241.79 219.27 L244.51 220.22 L247.23 221.02 L249.94 221.79 L252.66 222.57 L255.38 223.39 L258.09 224.22 L260.81 225.07 L263.53 225.91 L266.25 226.73 L268.96 227.52 L271.68 228.32 L274.40 229.12 L277.12 229.88 L279.83 230.62 L282.55 231.37 L285.27 232.14 L287.98 232.96 L290.70 233.84 L293.42 234.76 L296.14 235.71 L298.85 236.65 L301.57 237.60 L304.29 238.54 L307.00 239.41 L309.72 240.23 L312.44 241.04 L315.16 241.84 L317.87 242.65 L320.59 243.51 L323.31 244.41 L326.02 245.33 L328.74 246.28 L331.46 247.25 L334.18 248.27 L336.89 249.33 L339.61 250.46 L342.33 251.66 L345.04 252.92 L347.76 254.23 L350.48 255.54 L353.20 256.85 L355.91 258.16 L358.63 259.49 L361.35 260.83 L364.06 262.18 L366.78 263.54 L369.50 264.90 L372.22 266.26 L374.93 267.62 L377.65 268.93 L380.37 270.23 L383.08 271.54 L385.80 272.86 L388.52 274.18 L391.24 275.49 L393.95 276.79 L396.67 278.07 L399.39 279.32 L402.10 280.55 L404.82 281.73 L407.54 282.85 L410.26 283.96 L412.97 285.06 L415.69 286.15 L418.41 287.24 L421.12 288.34 L423.84 289.44 L426.56 290.56 L429.28 291.76 L431.99 293.07 L434.71 294.38 L437.43 295.68 L440.14 296.99 L442.86 298.30 L445.58 299.60 L448.30 300.91 L451.01 302.21 L453.73 303.58 L456.45 304.99 L459.16 306.39 L461.88 307.78 L464.60 309.16 L467.32 310.53 L470.03 311.87 L472.75 313.18 L475.47 314.55 L478.18 315.97 L480.90 317.38 L483.62 318.77 L486.34 320.02 L489.05 321.13 L491.77 322.22 L494.49 323.31 L497.20 324.37 L499.92 325.41 L502.64 326.42 L505.36 327.41 L508.07 328.38 L510.79 329.36 L513.51 330.35 L516.22 331.35 L518.94 332.37 L521.66 333.40 L524.38 334.41 L527.09 335.44 L529.81 336.47 L532.53 337.52 L535.24 338.59 L537.96 339.69 L540.68 340.82 L543.40 341.98 L546.11 343.19 L548.83 344.43 L551.55 345.71 L554.26 347.03 L556.98 348.39 L559.70 349.78 L562.42 351.19 L565.13 352.64 L567.85 354.12 L570.57 355.63 L573.28 357.16 L576.00 358.73 L578.72 360.33 L581.44 361.97 L584.15 363.63 L586.87 365.33 L589.59 367.06 L592.31 368.82 L595.02 370.62 L597.74 372.45 L600.46 374.31 L603.17 376.21 L605.89 378.19 L608.61 380.24 L611.33 382.34 L614.04 384.47 L616.76 386.63 L619.48 388.78 L622.19 390.92 L624.91 393.03 L627.63 395.10 L630.35 397.10 L633.06 399.13 L635.78 401.19 L638.50 403.23 L641.21 405.18 L643.93 406.98 L646.65 408.57 L649.37 409.97 L652.08 411.26 L654.80 412.46 L657.52 413.58 L660.23 414.64 L662.95 415.66 L665.67 416.66 L668.39 417.62 L671.10 418.53 L673.82 419.39 L676.54 420.23 L679.25 421.05 L681.97 421.88 L684.69 422.70 L687.41 423.48 L690.12 424.23 L692.84 424.99 L695.56 425.79 L698.27 426.68 L700.99 427.69 L703.71 428.87 L706.43 430.17 L709.14 431.57 L711.86 433.04 L714.58 434.54 L717.29 436.10 L720.01 437.73 L722.73 439.43 L725.45 441.20 L728.16 443.05 L730.88 444.97 L733.60 446.97 L736.31 449.06 L739.03 451.24 L741.75 453.51 L744.47 455.86 L747.18 458.29 L749.90 460.80" stroke="#ff0000" stroke-width="1.10" fill="none" stroke-dasharray="10 3.5 1.5 3.5" stroke-linejoin="round"/>
<rect x="99.20" y="26.60" width="689.40" height="479.40" fill="none" stroke="#000" stroke-width="3.4"/>
<path d="M656 60 H733" stroke="#000" stroke-width="1.2" fill="none"/>
<path d="M656 89 H733" stroke="#000" stroke-width="1.0" stroke-dasharray="6.7 3.35" fill="none"/>
<path d="M656 120.45 H733" stroke="#000" stroke-width="1.1" stroke-dasharray="10 3.1 2 3" fill="none"/>
<path d="M350.4 401.3 H416.3" stroke="#ff00ff" stroke-width="1.1" fill="none"/>
<path d="M350.4 431.3 H416.3" stroke="#00ff00" stroke-width="1.1" fill="none"/>
<path d="M350.4 461.35 H416.3" stroke="#ff0000" stroke-width="1.1" fill="none"/>
</svg>
<svg width="830" height="580" viewBox="0 0 830 580" style="position:absolute;left:0;top:0;will-change:transform">
<g font-family="'Liberation Sans', sans-serif" font-size="23.2" fill="#000">
<text transform="translate(85.60 516.60) scale(1 1.05)" text-anchor="end">10<tspan font-size="18.6" dy="-11.64">10</tspan></text>
<text transform="translate(85.60 450.94) scale(1 1.05)" text-anchor="end">10<tspan font-size="18.6" dy="-11.64">11</tspan></text>
<text transform="translate(85.60 385.28) scale(1 1.05)" text-anchor="end">10<tspan font-size="18.6" dy="-11.64">12</tspan></text>
<text transform="translate(85.60 319.61) scale(1 1.05)" text-anchor="end">10<tspan font-size="18.6" dy="-11.64">13</tspan></text>
<text transform="translate(85.60 253.95) scale(1 1.05)" text-anchor="end">10<tspan font-size="18.6" dy="-11.64">14</tspan></text>
<text transform="translate(85.60 188.29) scale(1 1.05)" text-anchor="end">10<tspan font-size="18.6" dy="-11.64">15</tspan></text>
<text transform="translate(85.60 122.63) scale(1 1.05)" text-anchor="end">10<tspan font-size="18.6" dy="-11.64">16</tspan></text>
<text transform="translate(85.60 56.97) scale(1 1.05)" text-anchor="end">10<tspan font-size="18.6" dy="-11.64">17</tspan></text>
<text transform="translate(99.70 539.90) scale(1 1.05)" text-anchor="middle">10<tspan font-size="18.6" dy="-11.84">0</tspan></text>
<text transform="translate(378.01 539.90) scale(1 1.05)" text-anchor="middle">10<tspan font-size="18.6" dy="-11.84">1</tspan></text>
<text transform="translate(656.31 539.90) scale(1 1.05)" text-anchor="middle">10<tspan font-size="18.6" dy="-11.84">2</tspan></text>
<text transform="translate(443.90 571.00) scale(1 1.05)" text-anchor="middle">r [kpc]</text>
<g transform="translate(25.8 326) rotate(-90)">
<text transform="translate(-1.20 0.00) scale(1 1.05)" text-anchor="start">ρ</text>
<text transform="translate(17.90 0.00) scale(1 1.05)" text-anchor="start">[M</text>
<circle cx="48.75" cy="2.40" r="4.10" fill="none" stroke="#000" stroke-width="1.5"/><circle cx="48.75" cy="2.40" r="1.6" fill="#000"/>
<text transform="translate(53.30 0.00) scale(1 1.05)" text-anchor="start">/Mpc<tspan font-size="18.6" dy="-10.24">3</tspan><tspan dy="10.24">]</tspan></text>
</g>
<text transform="translate(639.00 68.20) scale(1 1.05)" text-anchor="end">CDM</text>
<text transform="translate(639.00 97.80) scale(1 1.05)" text-anchor="end">r<tspan font-size="18.6" dy="5.90">warm</tspan><tspan dy="-5.90"> = 0.25 MDM</tspan></text>
<text transform="translate(639.00 128.70) scale(1 1.05)" text-anchor="end">r<tspan font-size="18.6" dy="5.90">warm</tspan><tspan dy="-5.90"> = 0.50 MDM</tspan></text>
<path d="M307.90 147.00 C304.90 147.00 302.90 148.70 301.50 150.20 C300.10 151.80 298.90 153.20 297.20 153.20 C295.40 153.20 294.55 151.80 294.55 150.20 C294.55 148.60 295.40 147.20 297.20 147.20 C298.90 147.20 300.10 148.60 301.50 150.20 C302.90 151.70 304.90 153.40 307.90 153.40" fill="none" stroke="#000" stroke-width="1.4"/>
<text transform="translate(316.60 156.10) scale(1 1.05)" text-anchor="start">r<tspan font-size="18.6" dy="-10.54">-1</tspan></text>
<path d="M626.80 283.30 C623.80 283.30 621.80 285.00 620.40 286.50 C619.00 288.10 617.80 289.50 616.10 289.50 C614.30 289.50 613.45 288.10 613.45 286.50 C613.45 284.90 614.30 283.50 616.10 283.50 C617.80 283.50 619.00 284.90 620.40 286.50 C621.80 288.00 623.80 289.70 626.80 289.70" fill="none" stroke="#000" stroke-width="1.4"/>
<text transform="translate(635.50 292.40) scale(1 1.05)" text-anchor="start">r<tspan font-size="18.6" dy="-10.54">-3</tspan></text>
<text transform="translate(209.80 408.60) scale(1 1.05)" text-anchor="start">2.6</text>
<path d="M243.10 397.80 l10.20 10.20 M243.10 408.00 l10.20 -10.20" stroke="#000" stroke-width="1.25" fill="none"/>
<text transform="translate(254.30 408.60) scale(1 1.05)" text-anchor="start">10<tspan font-size="18.6" dy="-10.74">12</tspan><tspan dy="10.74"> M</tspan></text>
<circle cx="331.00" cy="411.80" r="3.80" fill="none" stroke="#000" stroke-width="1.5"/><circle cx="331.00" cy="411.80" r="1.6" fill="#000"/>
<text transform="translate(133.70 438.60) scale(1 1.05)" text-anchor="start">(10<tspan font-size="18.6" dy="-10.44">-1</tspan></text>
<path d="M184.30 427.80 l10.20 10.20 M184.30 438.00 l10.20 -10.20" stroke="#000" stroke-width="1.25" fill="none"/>
<text transform="translate(196.00 438.60) scale(1 1.05)" text-anchor="start">)</text>
<text transform="translate(209.80 438.60) scale(1 1.05)" text-anchor="start">1.7</text>
<path d="M243.10 427.80 l10.20 10.20 M243.10 438.00 l10.20 -10.20" stroke="#000" stroke-width="1.25" fill="none"/>
<text transform="translate(254.30 438.60) scale(1 1.05)" text-anchor="start">10<tspan font-size="18.6" dy="-10.74">12</tspan><tspan dy="10.74"> M</tspan></text>
<circle cx="331.00" cy="441.80" r="3.80" fill="none" stroke="#000" stroke-width="1.5"/><circle cx="331.00" cy="441.80" r="1.6" fill="#000"/>
<text transform="translate(133.70 468.40) scale(1 1.05)" text-anchor="start">(10<tspan font-size="18.6" dy="-10.44">-2</tspan></text>
<path d="M184.30 457.60 l10.20 10.20 M184.30 467.80 l10.20 -10.20" stroke="#000" stroke-width="1.25" fill="none"/>
<text transform="translate(196.00 468.40) scale(1 1.05)" text-anchor="start">)</text>
<text transform="translate(209.80 468.40) scale(1 1.05)" text-anchor="start">1.5</text>
<path d="M243.10 457.60 l10.20 10.20 M243.10 467.80 l10.20 -10.20" stroke="#000" stroke-width="1.25" fill="none"/>
<text transform="translate(254.30 468.40) scale(1 1.05)" text-anchor="start">10<tspan font-size="18.6" dy="-10.74">12</tspan><tspan dy="10.74"> M</tspan></text>
<circle cx="331.00" cy="471.60" r="3.80" fill="none" stroke="#000" stroke-width="1.5"/><circle cx="331.00" cy="471.60" r="1.6" fill="#000"/>
</g>
</svg>
</body></html>
